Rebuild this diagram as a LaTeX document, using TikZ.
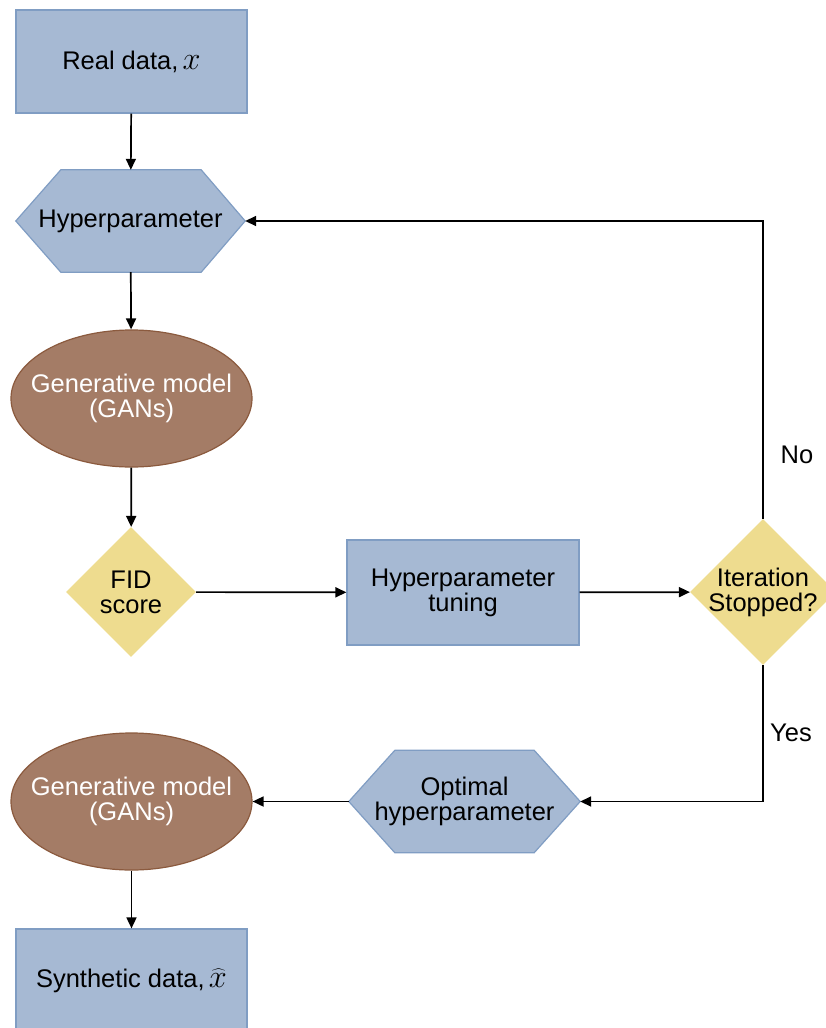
\documentclass[tikz,border=0pt]{standalone}
\usepackage{graphicx}
\usepackage{fontspec}
\setmainfont{Liberation Sans}
\usetikzlibrary{arrows.meta,shapes.geometric,backgrounds}
\definecolor{boxblue}{HTML}{A6B9D3}
\definecolor{boxedge}{HTML}{809DC3}
\definecolor{brownfill}{HTML}{A47C66}
\definecolor{brownedge}{HTML}{8B5A3E}
\definecolor{diayellow}{HTML}{EEDC8F}
\newcommand{\bigx}[1]{\scalebox{1.3}{$#1$}}
\begin{document}
\begin{tikzpicture}[x=1pt,y=-1pt,
  every node/.style={font=\fontsize{25.5}{25}\selectfont, align=center},
  every label/.style={font=\fontsize{25.5}{25}\selectfont, align=center},
  bluebox/.style={rectangle, fill=boxblue, draw=boxedge, line width=1.2pt, minimum width=231pt, minimum height=103pt, inner sep=0},
  hexbox/.style={rectangle, minimum width=229pt, minimum height=102pt, inner sep=0},
  hexshape/.style={fill=boxblue, draw=boxedge, line width=1.2pt},
  genell/.style={ellipse, fill=brownfill, draw=brownedge, line width=1.2pt, minimum width=241pt, minimum height=137pt, inner sep=0},
  decision/.style={diamond, fill=diayellow, inner sep=0, aspect=1},
  conn/.style={line width=1.7pt, -{Triangle[length=11pt,width=10pt]}},
  lbl/.style={inner sep=0}
]
\useasboundingbox (0,0) rectangle (826,1028);

\node[bluebox] (real) at (131.5,61.5) {Real data,\,\bigx{x}};
\node[hexbox] (hyp) at (130.5,221) {Hyperparameter};
\node[genell, label={[text=white]center:Generative model\\(GANs)}] (gen1) at (131.5,398.5) {};
\node[decision, minimum width=130pt, minimum height=130pt] (fid) at (131,592) {FID\\score};
\node[bluebox, minimum width=232pt, minimum height=105pt] (tune) at (463,592.5) {Hyperparameter\\tuning};
\node[decision, minimum width=146pt, minimum height=146pt, label={center:Iteration\\Stopped?}] (iter) at (763,592) {};
\node[hexbox, minimum width=231pt] (opt) at (464.5,801.5) {Optimal\\hyperparameter};
\node[genell, label={[text=white]center:Generative model\\(GANs)}] (gen2) at (131.5,801.5) {};
\node[bluebox] (synth) at (131.5,980.5) {Synthetic data,\,\bigx{\widehat{x}}};

\node[lbl] (no) at (797,455) {No};
\node[lbl] (yes) at (791,733) {Yes};

\begin{scope}[on background layer]
  \path[hexshape] (hyp.west) -- ([xshift=45pt]hyp.north west) -- ([xshift=-44pt]hyp.north east) -- (hyp.east) -- ([xshift=-44pt]hyp.south east) -- ([xshift=45pt]hyp.south west) -- cycle;
  \path[hexshape] (opt.west) -- ([xshift=46pt]opt.north west) -- ([xshift=-46pt]opt.north east) -- (opt.east) -- ([xshift=-46pt]opt.south east) -- ([xshift=46pt]opt.south west) -- cycle;
\end{scope}

\draw[conn] (real) -- (hyp);
\draw[conn] (hyp) -- (gen1);
\draw[conn] (gen1) -- (fid);
\draw[conn] (fid) -- (tune);
\draw[conn] (tune) -- (iter);
\draw[conn] (iter.north) |- (hyp.east);
\draw[conn] (iter.south) |- (opt.east);
\draw[conn] (opt) -- (gen2);
\draw[conn] (gen2) -- (synth);
\end{tikzpicture}
\end{document}
